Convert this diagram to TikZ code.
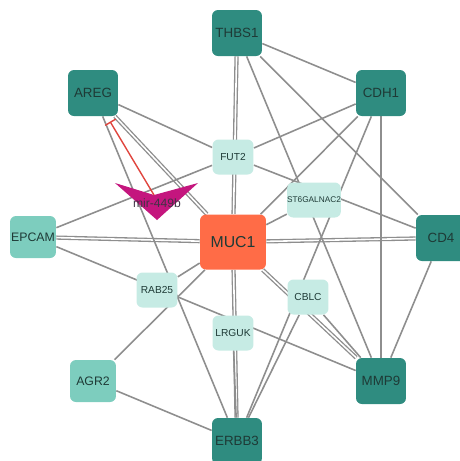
\documentclass[tikz,border=0pt]{standalone}
\usepackage{fontspec}
\setmainfont{Liberation Sans}
\usetikzlibrary{arrows.meta, backgrounds}
\definecolor{hubteal}{HTML}{2F8C80}
\definecolor{midteal}{HTML}{7DCDBE}
\definecolor{leafteal}{HTML}{C6EBE4}
\definecolor{coreorange}{HTML}{FF6C47}
\definecolor{mirpink}{HTML}{C4167E}
\definecolor{inhred}{HTML}{E0453E}
\definecolor{linkgray}{HTML}{8E8E8E}
\definecolor{textdark}{HTML}{1E3A36}

\begin{document}
\begin{tikzpicture}[
    x=0.02cm, y=-0.02cm,
    gene/.style={rounded corners=3.4pt, inner sep=0pt, align=center, text=textdark},
    hub/.style={gene, fill=hubteal, minimum width=1cm, minimum height=0.92cm,
                font=\fontsize{7.6}{9}\selectfont},
    mid/.style={gene, fill=midteal, minimum width=0.92cm, minimum height=0.84cm,
                font=\fontsize{7}{9}\selectfont},
    leaf/.style={gene, fill=leafteal, minimum width=0.82cm, minimum height=0.70cm,
                 font=\fontsize{5.8}{7}\selectfont},
    core/.style={gene, fill=coreorange, minimum width=1.32cm, minimum height=1.1cm,
                 font=\fontsize{9}{11}\selectfont},
    link/.style={draw=linkgray, line width=0.9pt},
    dlink/.style={draw=linkgray, line width=0.75pt, double=white, double distance=0.9pt},
    inhib/.style={draw=inhred, line width=0.8pt, -{Bar[width=7pt, line width=0.8pt]}, shorten >=3.5pt},
]
\useasboundingbox (0,0) rectangle (460,461);

% Outer ring
\node[hub] (thbs1) at (237,33) {THBS1};
\node[hub] (cdh1) at (381,93) {CDH1};
\node[hub] (areg) at (93,93) {AREG};
\node[hub] (cd4) at (441,238) {CD4};
\node[hub] (mmp9) at (381,381) {MMP9};
\node[hub] (erbb3) at (237,441) {ERBB3};
\node[mid] (epcam) at (33,237) {EPCAM};
\node[mid] (agr2) at (93,381) {AGR2};

% Hub
\node[core] (muc1) at (233,242) {MUC1};

% Inner ring
\node[leaf] (fut2) at (233,157) {FUT2};
\node[leaf, font=\fontsize{4.7}{6}\selectfont, minimum width=0.84cm] (st6) at (314,200) {ST6GALNAC2};
\node[leaf] (rab25) at (157,290) {RAB25};
\node[leaf] (cblc) at (308,297) {CBLC};
\node[leaf] (lrguk) at (233,333) {LRGUK};

% miRNA
\coordinate (mirl) at (115,183);
\coordinate (mirn) at (154,195);
\coordinate (mirr) at (198,183);
\coordinate (mirt) at (157,220);
\fill[mirpink] (mirl) -- (mirn) -- (mirr) -- (mirt) -- cycle;
\node[text=textdark!80!mirpink, font=\fontsize{6.9}{8}\selectfont] (mir) at (157,203) {mir-449b};

% Interactions
\begin{scope}[on background layer]
\draw[dlink] (areg) -- (muc1);
\draw[dlink] (thbs1) -- (muc1);
\draw[dlink] (epcam) -- (muc1);
\draw[dlink] (muc1) -- (cd4);
\draw[dlink] (muc1) -- (erbb3);
\draw[dlink] (muc1) -- (mmp9);
\draw[link] (areg) -- (fut2);
\draw[link] (areg) -- (erbb3);
\draw[link] (thbs1) -- (cdh1);
\draw[link] (thbs1) -- (mmp9);
\draw[link] (thbs1) -- (cd4);
\draw[link] (cdh1) -- (fut2);
\draw[link] (cdh1) -- (muc1);
\draw[link] (cdh1) -- (erbb3);
\draw[link] (cdh1) -- (mmp9);
\draw[link] (fut2) -- (cd4);
\draw[link] (epcam) -- (fut2);
\draw[link] (epcam) -- (mmp9);
\draw[link] (muc1) -- (st6);
\draw[link] (rab25) -- (muc1);
\draw[link] (agr2) -- (muc1);
\draw[link] (agr2) -- (erbb3);
\draw[link] (cblc) -- (erbb3);
\draw[link] (cblc) -- (mmp9);
\draw[link] (cd4) -- (mmp9);
\draw[link] (lrguk) -- (erbb3);
\end{scope}

% Inhibition
\draw[inhib] (mirn) -- (areg);

\end{tikzpicture}
\end{document}
